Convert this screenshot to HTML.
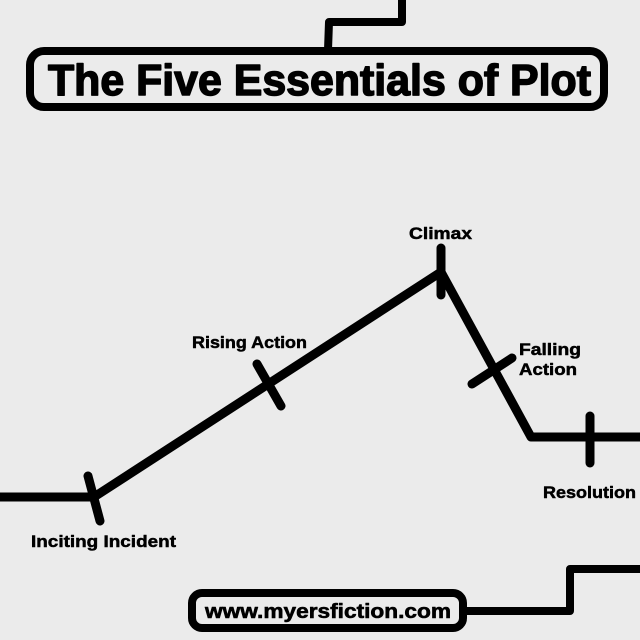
<!DOCTYPE html>
<html><head><meta charset="utf-8"><style>html,body{margin:0;padding:0;background:#ebebeb}</style></head>
<body>
<svg width="640" height="640" viewBox="0 0 640 640" xmlns="http://www.w3.org/2000/svg" style="display:block">
<rect width="640" height="640" fill="#ebebeb"/>
<g fill="none" stroke="#000" stroke-linecap="round" stroke-linejoin="round">
  <polyline points="328,50 329,22 402,22 402,-5" stroke-width="8"/>
  <rect x="30" y="51" width="574" height="56" rx="14" stroke-width="8"/>
  <rect x="192" y="593" width="271" height="35" rx="10" stroke-width="8"/>
  <polyline points="463,611 570,611 570,569 645,569" stroke-width="8"/>
  <polyline points="-5,497 94,497 441,272 531,437 645,437" stroke-width="9"/>
  <line x1="88" y1="476" x2="100" y2="521" stroke-width="9"/>
  <line x1="257" y1="364" x2="281" y2="406" stroke-width="9"/>
  <line x1="441" y1="248" x2="441" y2="295" stroke-width="9"/>
  <line x1="472" y1="384" x2="512" y2="358" stroke-width="9"/>
  <line x1="590" y1="416" x2="590" y2="463" stroke-width="9"/>
</g>
<g font-family="Liberation Sans, sans-serif" font-weight="bold" fill="#000" stroke="#000" stroke-linejoin="round">
  <text x="48" y="95" font-size="44" stroke-width="1.5" textLength="543" lengthAdjust="spacingAndGlyphs">The Five Essentials of Plot</text>
  <text x="205" y="618" font-size="20" stroke-width="0.6" textLength="246" lengthAdjust="spacingAndGlyphs">www.myersfiction.com</text>
  <text x="409" y="239" font-size="17" stroke-width="0.5" textLength="63" lengthAdjust="spacingAndGlyphs">Climax</text>
  <text x="192" y="348" font-size="17" stroke-width="0.5" textLength="115" lengthAdjust="spacingAndGlyphs">Rising Action</text>
  <text x="519" y="355" font-size="17" stroke-width="0.5" textLength="62" lengthAdjust="spacingAndGlyphs">Falling</text>
  <text x="519" y="375" font-size="17" stroke-width="0.5" textLength="58" lengthAdjust="spacingAndGlyphs">Action</text>
  <text x="543" y="498" font-size="17" stroke-width="0.5" textLength="93" lengthAdjust="spacingAndGlyphs">Resolution</text>
  <text x="31" y="547" font-size="17" stroke-width="0.5" textLength="145" lengthAdjust="spacingAndGlyphs">Inciting Incident</text>
</g>
</svg>
</body></html>
